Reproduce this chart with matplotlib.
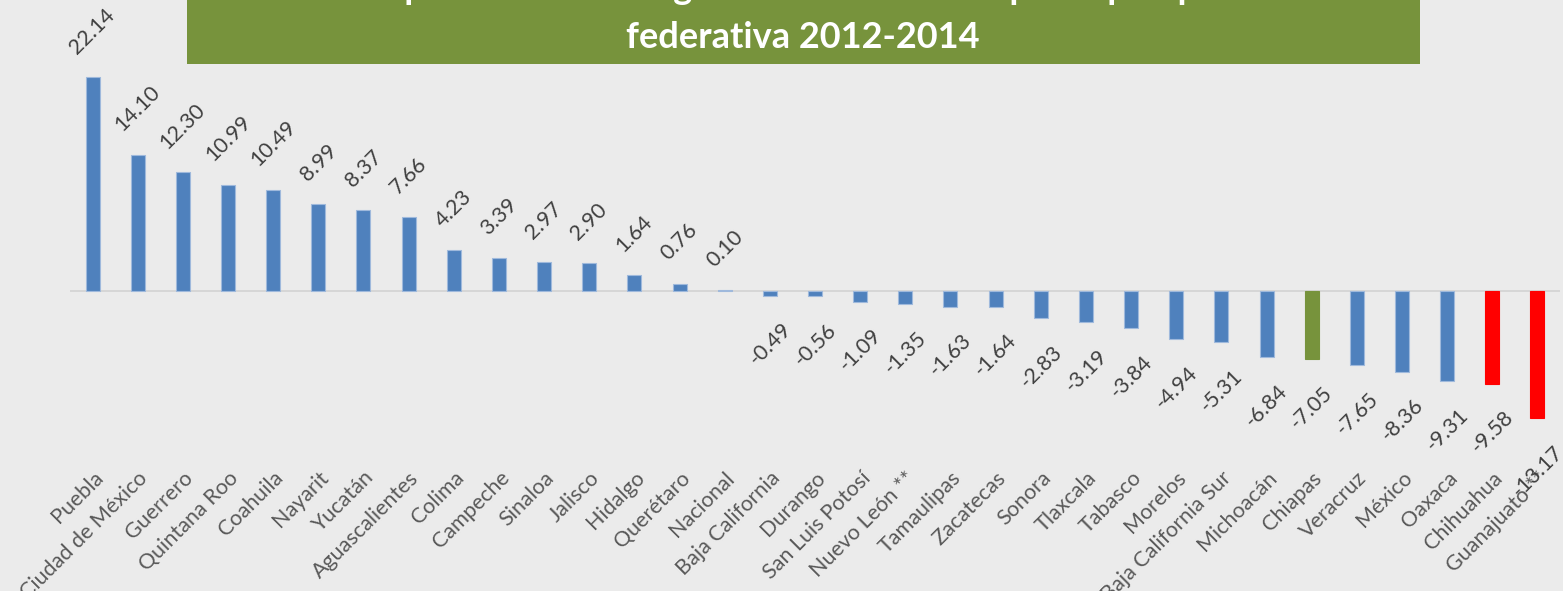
import matplotlib
matplotlib.use('Agg')
import matplotlib.pyplot as plt
import matplotlib.patches as mpatches

# Datos por entidad federativa (2012-2014)
estados = ['Puebla', 'Ciudad de México', 'Guerrero', 'Quintana Roo', 'Coahuila',
           'Nayarit', 'Yucatán', 'Aguascalientes', 'Colima', 'Campeche', 'Sinaloa',
           'Jalisco', 'Hidalgo', 'Querétaro', 'Nacional', 'Baja California',
           'Durango', 'San Luis Potosí', 'Nuevo León **', 'Tamaulipas', 'Zacatecas',
           'Sonora', 'Tlaxcala', 'Tabasco', 'Morelos', 'Baja California Sur',
           'Michoacán', 'Chiapas', 'Veracruz', 'México', 'Oaxaca', 'Chihuahua',
           'Guanajuato **']
valores = [22.14, 14.10, 12.30, 10.99, 10.49, 8.99, 8.37, 7.66, 4.23, 3.39, 2.97,
           2.90, 1.64, 0.76, 0.10, -0.49, -0.56, -1.09, -1.35, -1.63, -1.64,
           -2.83, -3.19, -3.84, -4.94, -5.31, -6.84, -7.05, -7.65, -8.36, -9.31,
           -9.58, -13.17]
resaltar_verde = ['Chiapas']
resaltar_rojo = ['Chihuahua', 'Guanajuato **']

titulo_1 = 'Variación porcentual del ingreso corriente total per cápita por entidad'
titulo_2 = 'federativa 2012-2014'

plt.rcParams['font.family'] = ['Lato', 'DejaVu Sans']

W, H = 1563, 591
fig = plt.figure(figsize=(W / 100, H / 100), dpi=100)
fig.patch.set_facecolor('#ebebeb')

ax = fig.add_axes([70 / W, (H - 440) / H, 1490 / W, 380 / H])
ax.set_facecolor('#ebebeb')

colores = []
for e in estados:
    if e in resaltar_verde:
        colores.append('#77933c')
    elif e in resaltar_rojo:
        colores.append('#ff0000')
    else:
        colores.append('#4f81bd')

x = list(range(len(estados)))
bordes = ['#9fb9dc' if c == '#4f81bd' else c for c in colores]
ax.bar(x, valores, width=0.31, color=colores, edgecolor=bordes, linewidth=0.8, zorder=3)
ax.axhline(0, color='#d4d4d4', linewidth=1.3, zorder=2)

for i, v in enumerate(valores):
    if v >= 0:
        ax.annotate(f'{v:.2f}', (i, v), xytext=(0, 14), textcoords='offset points',
                    ha='center', va='bottom', rotation=45, fontsize=15.5, color='#404040')
    else:
        ax.annotate(f'{v:.2f}', (i, v), xytext=(0, -17), textcoords='offset points',
                    ha='center', va='top', rotation=45, fontsize=15.5, color='#404040')

ax.set_xlim(-0.5, len(estados) - 0.5)
ax.set_ylim(-15.41, 23.89)
ax.set_xticks(x)
ax.set_xticklabels(estados, rotation=45, ha='right', rotation_mode='anchor',
                   fontsize=15.5, color='#595959')
ax.tick_params(axis='x', length=0, pad=20)
ax.set_yticks([])
for s in ax.spines.values():
    s.set_visible(False)

# Caja verde del título (cortada arriba)
fig.patches.append(mpatches.Rectangle((187 / W, 1 - 64 / H), (1420 - 187) / W, 64 / H + 0.01,
                                      transform=fig.transFigure, facecolor='#77933c',
                                      edgecolor='none', zorder=0))
fig.text(803 / W, 1 + 1 / H, titulo_1, ha='center', va='baseline', fontsize=26,
         fontweight='bold', color='white')
fig.text(803 / W, 1 - 37 / H, titulo_2, ha='center', va='center', fontsize=26,
         fontweight='bold', color='white')

plt.savefig('out.png', dpi=100, facecolor=fig.get_facecolor())
